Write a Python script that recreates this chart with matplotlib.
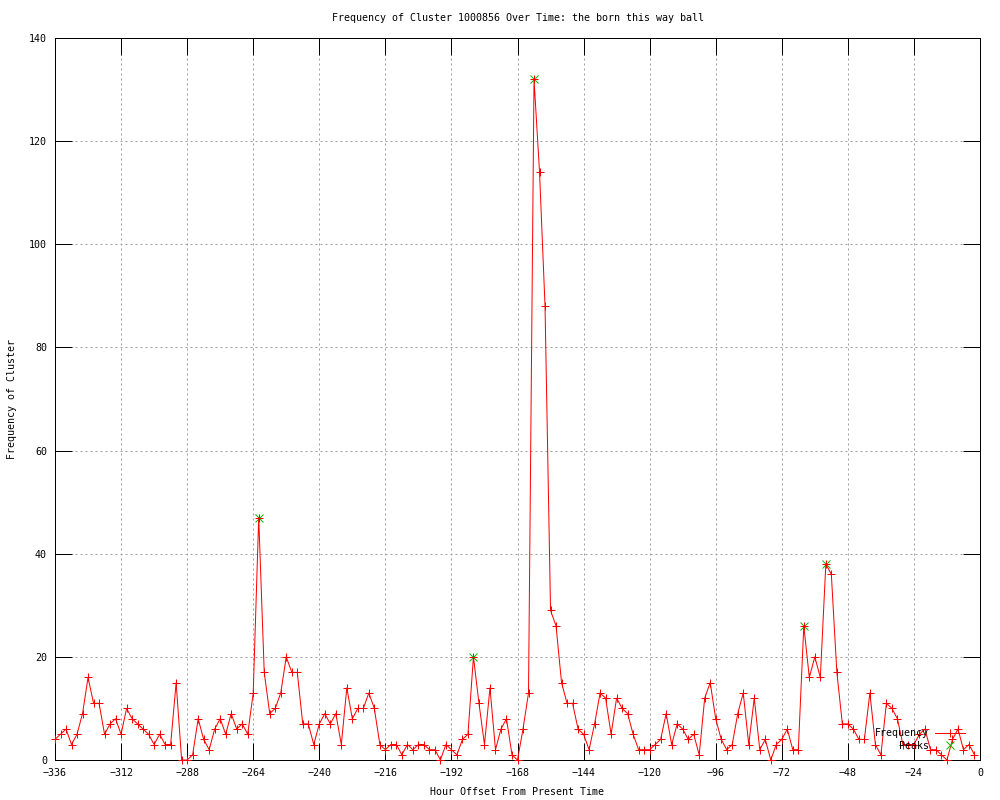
import numpy as np
import matplotlib
matplotlib.use("Agg")
import matplotlib.pyplot as plt

# hour offsets (every 2 hours) and cluster frequency
hours = list(range(-336, 0, 2))
freq = [
    4, 5, 6, 3, 5, 9, 16, 11, 11, 5, 7, 8, 5, 10, 8, 7, 6, 5, 3, 5,
    3, 3, 15, 0, 0, 1, 8, 4, 2, 6, 8, 5, 9, 6, 7, 5, 13, 47, 17, 9,
    10, 13, 20, 17, 17, 7, 7, 3, 7, 9, 7, 9, 3, 14, 8, 10, 10, 13, 10, 3,
    2, 3, 3, 1, 3, 2, 3, 3, 2, 2, 0, 3, 2, 1, 4, 5, 20, 11, 3, 14,
    2, 6, 8, 1, 0, 6, 13, 132, 114, 88, 29, 26, 15, 11, 11, 6, 5, 2, 7, 13,
    12, 5, 12, 10, 9, 5, 2, 2, 2, 3, 4, 9, 3, 7, 6, 4, 5, 1, 12, 15,
    8, 4, 2, 3, 9, 13, 3, 12, 2, 4, 0, 3, 4, 6, 2, 2, 26, 16, 20, 16,
    38, 36, 17, 7, 7, 6, 4, 4, 13, 3, 1, 11, 10, 8, 3, 3, 3, 5, 6, 2,
    2, 1, 0, 4, 6, 2, 3, 1,
]

peak_hours = [-262, -184, -162, -64, -56]
peak_freq = [47, 20, 132, 26, 38]

xticks = list(range(-336, 1, 24))
yticks = list(range(0, 141, 20))

font = "DejaVu Sans Mono"
fs = 7.2
px = 0.72  # one pixel in points at 100 dpi

fig = plt.figure(figsize=(10, 8), dpi=100)
ax = fig.add_axes([0.055, 0.05, 0.925, 0.9025])

ax.plot(peak_hours, peak_freq, linestyle="none", marker="x", color="#00c000",
        markersize=5.5, markeredgewidth=px, label="Peaks", zorder=3)
ax.plot(hours, freq, color="#ff0000", linewidth=px, marker="+", markersize=5.5,
        markeredgewidth=px, label="Frequency", zorder=4, clip_on=False)

ax.set_xlim(-336, 0)
ax.set_ylim(0, 140)
ax.set_xticks(xticks)
ax.set_yticks(yticks)
ax.set_xticklabels([str(t).replace("-", "\u2212") for t in xticks],
                   family=font, fontsize=fs)
ax.set_yticklabels([str(t) for t in yticks], family=font, fontsize=fs)
ax.tick_params(direction="in", length=12, width=px, top=True, right=True,
               pad=5.8, colors="black")

ax.grid(True, color="#a0a0a0", linewidth=px, linestyle=(0, (2, 3)))
ax.set_axisbelow(True)
for sp in ax.spines.values():
    sp.set_linewidth(px)
    sp.set_color("black")

ax.set_title("Frequency of Cluster 1000856 Over Time: the born this way ball",
             family=font, fontsize=fs, y=1.0277, pad=0, va="center")
ax.set_xlabel("Hour Offset From Present Time", family=font, fontsize=fs,
              va="center")
ax.xaxis.set_label_coords(0.5, -0.0443)
ax.set_ylabel("Frequency of Cluster", family=font, fontsize=fs, va="center")
ax.yaxis.set_label_coords(-0.0465, 0.5)

handles, labels = ax.get_legend_handles_labels()
leg = ax.legend(handles[::-1], labels[::-1], loc="lower right",
                bbox_to_anchor=(0.970, 0.0555), bbox_transform=fig.transFigure,
                frameon=False, markerfirst=False, borderpad=0,
                labelspacing=0.25, handlelength=3.0, handletextpad=0.6,
                prop={"family": font, "size": fs})

fig.savefig("out.png", dpi=100)
